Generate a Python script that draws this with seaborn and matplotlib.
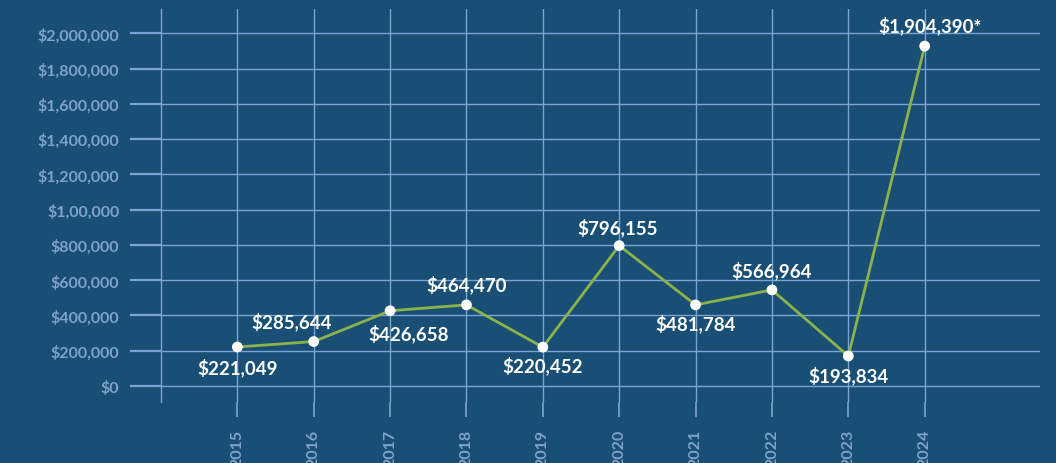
import matplotlib
matplotlib.use("Agg")
import matplotlib.pyplot as plt
import seaborn as sns
import pandas as pd

# ---- data ----
years = ["2015", "2016", "2017", "2018", "2019", "2020", "2021", "2022", "2023", "2024"]
plotted_values = [221049, 252000, 426658, 460000, 220452, 796155, 460000, 545000, 170000, 1928000]
point_labels = ["$221,049", "$285,644", "$426,658", "$464,470", "$220,452",
                "$796,155", "$481,784", "$566,964", "$193,834", "$1,904,390*"]
label_above = [False, True, False, True, False, True, False, True, False, True]
y_ticks = [0, 200000, 400000, 600000, 800000, 1000000, 1200000, 1400000, 1600000, 1800000, 2000000]
y_tick_labels = ["$0", "$200,000", "$400,000", "$600,000", "$800,000", "$1,00,000",
                 "$1,200,000", "$1,400,000", "$1,600,000", "$1,800,000", "$2,000,000"]

BG = "#194f74"
GRID = "#7aa3d6"
TICKTXT = "#7fa2c9"
LINE = "#8cb24c"

sns.set_theme(style="dark")
plt.rcParams["font.family"] = ["Lato", "DejaVu Sans"]

df = pd.DataFrame({"pos": list(range(len(years))), "value": plotted_values})

fig = plt.figure(figsize=(10.56, 4.64), dpi=100, facecolor=BG)
ax = fig.add_axes([161 / 1056, 1 - 403 / 464, (1040 - 161) / 1056, (403 - 10) / 464])
ax.set_facecolor(BG)

sns.lineplot(data=df, x="pos", y="value", ax=ax, color=LINE, linewidth=2, zorder=3)
sns.scatterplot(data=df, x="pos", y="value", ax=ax, color="white", s=60,
                edgecolor="none", zorder=4)

ax.set_xlim(-1, 10.51)
ax.set_ylim(-0.0909e6, 2.1385e6)

ax.set_yticks(y_ticks)
ax.set_yticklabels(y_tick_labels)
ax.set_xticks(list(range(len(years))))
ax.set_xticklabels(years, rotation=90)

for lbl in ax.get_yticklabels():
    lbl.set_fontweight("bold")
for lbl in ax.get_xticklabels():
    lbl.set_fontweight("bold")

ax.tick_params(axis="y", direction="out", length=22, width=1.6, color=GRID,
               labelcolor=TICKTXT, labelsize=11.5, pad=8, left=True)
ax.tick_params(axis="x", direction="out", length=11, width=1.2, color=GRID,
               labelcolor=TICKTXT, labelsize=11.5, pad=8, bottom=True)

ax.grid(True, color=GRID, linewidth=1.0)
ax.set_axisbelow(True)
for side in ["top", "right", "bottom"]:
    ax.spines[side].set_visible(False)
ax.spines["left"].set_visible(True)
ax.spines["left"].set_color(GRID)
ax.spines["left"].set_linewidth(1.0)

ax.set_xlabel("")
ax.set_ylabel("")

offsets = {0: (0, -20), 1: (-22, 21), 2: (18, -22), 3: (0, 21), 4: (0, -18),
           5: (-2, 19), 6: (0, -18), 7: (0, 20), 8: (0, -19), 9: (5, 21)}
for i, (v, t, up) in enumerate(zip(plotted_values, point_labels, label_above)):
    dx, dy = offsets[i]
    ax.annotate(t, (i, v), xytext=(dx * 0.72, dy * 0.72), textcoords="offset points",
                ha="center", va="center", color="white", fontsize=13.5,
                fontweight="bold", zorder=5)

fig.savefig("out.png", dpi=100, facecolor=BG)
